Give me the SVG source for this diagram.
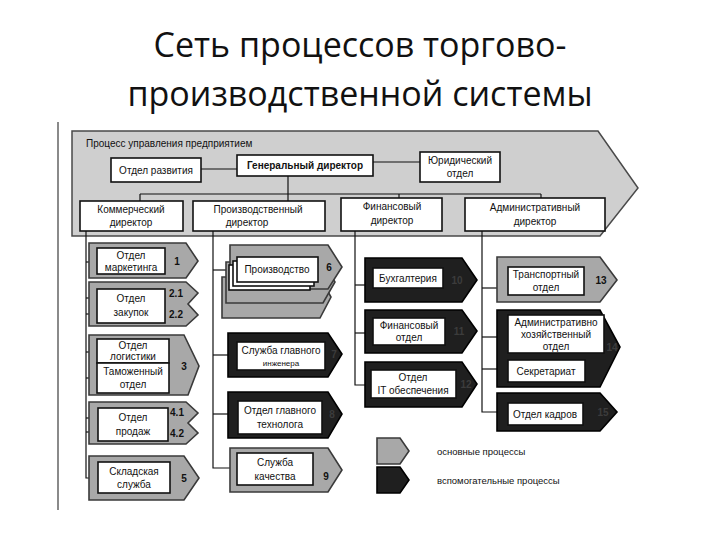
<svg xmlns="http://www.w3.org/2000/svg" width="720" height="540" viewBox="0 0 720 540">
<style>
.main{fill:#a8a8a8;stroke:#3a3a3a;stroke-width:1.6}
.aux{fill:#1f1f1f;stroke:#000;stroke-width:1.6}
.outer{fill:#cfcfcf;stroke:#4a4a4a;stroke-width:1.5}
.box{fill:#fff;stroke:#111;stroke-width:1.6}
.t{font-family:"Liberation Sans",Arial,sans-serif;font-size:10px;fill:#111;text-anchor:middle}
.b{font-weight:bold}
.n{font-family:"Liberation Sans",Arial,sans-serif;font-size:10px;font-weight:bold;fill:#111;text-anchor:middle}
.nd{font-family:"Liberation Sans",Arial,sans-serif;font-size:10px;font-weight:bold;fill:#3c3c3c;text-anchor:middle}
.c{stroke:#111;stroke-width:1.2;fill:none}
.title{font-family:"Open Sans","Liberation Sans",sans-serif;font-size:34px;fill:#111;text-anchor:middle}
.lg{font-family:"Liberation Sans",Arial,sans-serif;font-size:9.5px;fill:#111}
</style>
<rect x="0" y="0" width="720" height="540" fill="#fff"/>
<text class="title" x="360" y="57">Сеть процессов торгово-</text>
<text class="title" x="360" y="106">производственной системы</text>
<line x1="58" y1="122" x2="58" y2="510" stroke="#8a8a8a" stroke-width="2"/>

<g id="management">
<polygon class="outer" points="72,131 598,131 638,188 600,236 72,236"/>
<text class="t" x="86" y="147" style="text-anchor:start">Процесс управления предприятием</text>
</g>

<g id="connectors">
<line class="c" x1="201" y1="169" x2="237" y2="169"/>
<line class="c" x1="373" y1="162" x2="420" y2="162"/>
<line class="c" x1="288" y1="176" x2="288" y2="201"/>
<line class="c" x1="140" y1="194" x2="541" y2="194"/>
<line class="c" x1="140" y1="194" x2="140" y2="201"/>
<line class="c" x1="399" y1="194" x2="399" y2="198"/>
<line class="c" x1="541" y1="194" x2="541" y2="198"/>
<polyline class="c" points="86,231 86,478 98,478"/>
<line class="c" x1="86" y1="262" x2="97" y2="262"/>
<line class="c" x1="86" y1="298" x2="97" y2="298"/>
<line class="c" x1="86" y1="314" x2="97" y2="314"/>
<line class="c" x1="86" y1="352" x2="97" y2="352"/>
<line class="c" x1="86" y1="378" x2="97" y2="378"/>
<line class="c" x1="86" y1="418" x2="98" y2="418"/>
<line class="c" x1="86" y1="432" x2="98" y2="432"/>
<polyline class="c" points="213,231 213,468 237,468"/>
<line class="c" x1="213" y1="270" x2="229" y2="270"/>
<line class="c" x1="213" y1="355" x2="237" y2="355"/>
<line class="c" x1="213" y1="414" x2="238" y2="414"/>
<polyline class="c" points="355,231 355,385 371,385"/>
<line class="c" x1="355" y1="285" x2="373" y2="285"/>
<line class="c" x1="355" y1="333" x2="373" y2="333"/>
<polyline class="c" points="482,231 482,412 508,412"/>
<line class="c" x1="482" y1="288" x2="508" y2="288"/>
<line class="c" x1="482" y1="337" x2="508" y2="337"/>
<line class="c" x1="482" y1="369" x2="508" y2="369"/>
</g>

<g id="dev"><rect class="box" x="111" y="158" width="90" height="24"/><text class="t" x="156" y="174">Отдел развития</text></g>
<g id="ceo"><rect class="box" x="237" y="155" width="136" height="21"/><text class="t b" x="305" y="169">Генеральный директор</text></g>
<g id="legal"><rect class="box" x="420" y="152" width="80" height="30"/><text class="t" x="460" y="164">Юридический</text><text class="t" x="460" y="177">отдел</text></g>

<g id="dir-com"><rect class="box" x="80" y="201" width="103" height="30"/><text class="t" x="131" y="213">Коммерческий</text><text class="t" x="131" y="226">директор</text></g>
<g id="dir-prod"><rect class="box" x="193" y="201" width="132" height="30"/><text class="t" x="258" y="213">Производственный</text><text class="t" x="247" y="226">директор</text></g>
<g id="dir-fin"><rect class="box" x="341" y="198" width="101" height="33"/><text class="t" x="392" y="210">Финансовый</text><text class="t" x="392" y="224">директор</text></g>
<g id="dir-adm"><rect class="box" x="465" y="198" width="140" height="33"/><text class="t" x="535" y="211">Административный</text><text class="t" x="535" y="225">директор</text></g>

<g id="p1"><polygon class="main" points="89,243 186,243 198,261 186,278 89,278"/><rect class="box" x="97" y="248" width="68" height="26"/><text class="t" x="131" y="259">Отдел</text><text class="t" x="131" y="271">маркетинга</text><text class="n" x="177" y="265">1</text></g>
<g id="p2"><polygon class="main" points="89,282 186,282 198,293 188,304 198,315 186,326 89,326"/><rect class="box" x="97" y="289" width="68" height="34"/><text class="t" x="131" y="302">Отдел</text><text class="t" x="131" y="316">закупок</text><text class="n" x="176" y="297">2.1</text><text class="n" x="176" y="318">2.2</text></g>
<g id="p3"><polygon class="main" points="89,335 184,335 199,366 188,395 89,395"/><rect class="box" x="97" y="339" width="72" height="24"/><rect class="box" x="97" y="363" width="72" height="30"/><text class="t" x="133" y="349">Отдел</text><text class="t" x="133" y="360">логистики</text><text class="t" x="133" y="375">Таможенный</text><text class="t" x="133" y="388">отдел</text><text class="n" x="184" y="370">3</text></g>
<g id="p4"><polygon class="main" points="89,402 186,402 198,413 188,423 198,433 186,444 89,444"/><rect class="box" x="98" y="408" width="70" height="33"/><text class="t" x="133" y="421">Отдел</text><text class="t" x="133" y="435">продаж</text><text class="n" x="177" y="416">4.1</text><text class="n" x="177" y="437">4.2</text></g>
<g id="p5"><polygon class="main" points="89,456 184,456 199,478 184,500 89,500"/><rect class="box" x="98" y="462" width="72" height="31"/><text class="t" x="134" y="475">Складская</text><text class="t" x="134" y="488">служба</text><text class="n" x="184" y="482">5</text></g>

<g id="p6"><polygon class="main" points="222,277 320,277 331,297 320,318 222,318"/><polygon class="main" points="226,262 323,262 335,282 323,303 226,303"/><polygon class="main" points="230,245 328,245 342,267 328,289 230,289"/><rect class="box" x="229" y="265" width="81" height="25"/><rect class="box" x="233" y="261" width="81" height="25"/><rect class="box" x="237" y="257" width="81" height="25"/><text class="t" x="277" y="273">Производство</text><text class="n" x="329" y="271">6</text></g>
<g id="p7"><polygon class="aux" points="228,333 328,333 342,354 328,377 228,377"/><rect class="box" x="237" y="342" width="88" height="28"/><text class="t" x="281" y="354">Служба главного</text><text class="t" x="281" y="366" style="font-size:8px">инженера</text><text class="nd" x="334" y="358">7</text></g>
<g id="p8"><polygon class="aux" points="228,392 328,392 342,414 328,438 228,438"/><rect class="box" x="238" y="401" width="84" height="33"/><text class="t" x="280" y="414">Отдел главного</text><text class="t" x="280" y="428">технолога</text><text class="nd" x="332" y="418">8</text></g>
<g id="p9"><polygon class="main" points="230,448 328,448 342,470 328,492 230,492"/><rect class="box" x="237" y="453" width="76" height="32"/><text class="t" x="275" y="466">Служба</text><text class="t" x="275" y="480">качества</text><text class="n" x="326" y="480">9</text></g>

<g id="p10"><polygon class="aux" points="365,258 462,258 477,280 462,302 365,302"/><rect class="box" x="373" y="268" width="70" height="20"/><text class="t" x="408" y="282">Бухгалтерия</text><text class="nd" x="457" y="284">10</text></g>
<g id="p11"><polygon class="aux" points="365,310 462,310 477,331 462,353 365,353"/><rect class="box" x="373" y="318" width="72" height="27"/><text class="t" x="409" y="329">Финансовый</text><text class="t" x="409" y="341">отдел</text><text class="nd" x="459" y="335">11</text></g>
<g id="p12"><polygon class="aux" points="365,362 462,362 477,384 462,407 365,407"/><rect class="box" x="371" y="370" width="85" height="28"/><text class="t" x="413" y="381">Отдел</text><text class="t" x="413" y="394">IT обеспечения</text><text class="nd" x="466" y="388">12</text></g>

<g id="p13"><polygon class="main" points="497,257 600,257 617,280 600,302 497,302"/><rect class="box" x="508" y="267" width="76" height="28"/><text class="t" x="546" y="278">Транспортный</text><text class="t" x="546" y="291">отдел</text><text class="n" x="601" y="284">13</text></g>
<g id="p14"><polygon class="aux" points="497,310 600,310 620,347 600,387 497,387"/><rect class="box" x="508" y="315" width="96" height="38"/><text class="t" x="556" y="326">Административно</text><text class="t" x="556" y="338">хозяйственный</text><text class="t" x="556" y="350">отдел</text><rect class="box" x="508" y="360" width="77" height="22"/><text class="t" x="546" y="375">Секретариат</text><text class="nd" x="612" y="351">14</text></g>
<g id="p15"><polygon class="aux" points="497,393 600,393 617,412 600,431 497,431"/><rect class="box" x="508" y="403" width="75" height="22"/><text class="t" x="545" y="418">Отдел кадров</text><text class="nd" x="603" y="416">15</text></g>

<g id="legend">
<polygon class="main" points="377,438 400,438 409,451 400,464 377,464"/>
<text class="lg" x="437" y="455">основные процессы</text>
<polygon class="aux" points="377,467 400,467 409,480 400,493 377,493"/>
<text class="lg" x="437" y="484">вспомогательные процессы</text>
</g>
</svg>
